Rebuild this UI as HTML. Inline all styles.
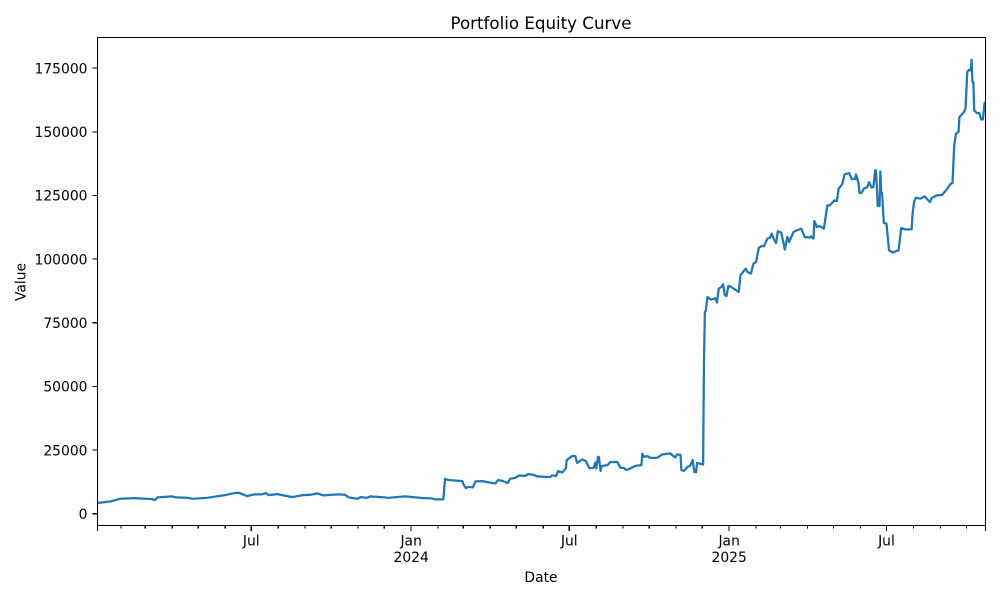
<!DOCTYPE html>
<html>
<head>
<meta charset="utf-8">
<title>Portfolio Equity Curve</title>
<style>
html,body{margin:0;padding:0;background:#fff;width:1000px;height:600px;overflow:hidden}
svg{display:block}
text{font-family:"DejaVu Sans","Liberation Sans",sans-serif;fill:#000}
</style>
</head>
<body>
<svg id="chart" xmlns="http://www.w3.org/2000/svg" width="1000" height="600" viewBox="0 0 1000 600">
  <rect x="0" y="0" width="1000" height="600" fill="#fff"/>
  <defs><clipPath id="plot-clip"><rect x="97.5" y="37.5" width="888" height="488"/></clipPath></defs>
  <g id="series-layer" clip-path="url(#plot-clip)"></g>
  <g id="tick-layer"></g>
  <rect x="97.5" y="37.5" width="888" height="488" fill="none" stroke="#000" stroke-width="1.11" shape-rendering="crispEdges"/>
  <text x="541" y="29" font-size="16.67" text-anchor="middle">Portfolio Equity Curve</text>
  <text x="541" y="582" font-size="13.89" text-anchor="middle">Date</text>
  <text x="0" y="0" font-size="13.89" text-anchor="middle" transform="translate(25.5,282) rotate(-90)">Value</text>
</svg>
<script>
const startDate = '2023-01-05';
const endDate = '2025-10-23';
const dayOffsets = [0,15,26,42,63,66,69,86,90,103,110,126,145,159,163,172,180,188,194,197,207,224,236,245,253,260,277,285,289,299,303,310,314,322,335,354,375,385,389,398,400,403,406,420,421,424,427,432,435,443,450,458,461,466,472,475,481,485,492,496,502,506,521,523,528,530,535,539,540,546,550,552,558,562,566,571,573,574,576,577,579,580,587,590,598,602,606,608,611,619,626,627,629,633,636,644,650,659,665,667,671,672,675,679,682,685,687,689,690,695,697,698,699,700,702,706,711,713,715,718,720,722,724,726,728,738,740,746,748,752,755,758,761,764,767,771,774,776,778,781,783,787,791,794,796,801,805,810,814,820,821,824,825,828,831,836,840,843,848,851,853,857,860,865,868,872,873,876,877,879,882,886,888,891,893,895,896,898,900,901,902,903,905,908,911,915,922,925,930,937,938,940,942,947,952,958,960,966,972,978,982,984,986,988,991,992,997,999,1001,1003,1005,1006,1007,1008,1009,1012,1015,1017,1019,1021,1022];
const portfolioValues = [4200,4830,5850,6120,5730,5340,6400,6790,6400,6240,5850,6240,7180,8200,8200,6910,7570,7570,8090,7300,7690,6520,7300,7420,7970,7180,7570,7420,6400,5850,6520,6240,6790,6630,6240,6790,6120,6000,5610,5610,13700,13300,13190,12800,11620,10050,10560,10320,12680,12800,12290,11890,13190,12910,12010,13700,14090,15030,14880,15540,15270,14640,14370,15030,14880,16720,16210,17780,21040,22610,22610,19980,21310,20650,17900,18020,20140,17780,22330,22330,16840,18680,19080,20250,20370,18020,18020,17230,17390,18800,19080,23510,22330,22610,21940,21940,23270,23670,22100,23270,23120,17110,16840,18410,18800,21040,16330,16330,19980,19470,19350,60000,79240,79640,85130,84110,84620,82940,88430,89060,90120,85800,85520,89450,89330,87090,93650,96280,94950,94320,98240,98870,104370,105160,105040,108020,108450,110020,108060,106330,110920,110410,103740,108680,106720,110650,111310,111980,108680,108450,108960,108060,114960,112610,113000,111980,121130,121130,123090,122810,127680,129370,133300,133800,131460,131460,133300,129640,125950,125950,127680,128300,130260,128050,128300,134860,134860,120850,120850,134470,125710,125950,114170,113950,103470,102560,103470,112220,111610,111730,117610,122810,124130,123740,124640,122410,123980,125050,125170,127680,129640,129880,144540,149270,150040,155800,157750,159080,173440,174380,174100,178300,169530,169530,158410,157350,157350,154840,154840,161400,161400];
const yTickValues = [0,25000,50000,75000,100000,125000,150000,175000];
const xMajorDates = ['2023-07-01','2024-01-01','2024-07-01','2025-01-01','2025-07-01'];
const xMajorLabels = ['Jul','Jan','Jul','Jan','Jul'];
const xMajorYears = ['','2024','','2025',''];

const NS = 'http://www.w3.org/2000/svg';
const plotLeft = 97.5, plotRight = 985.5, plotBottom = 525.5, zeroY = 513.7, pixelsPerValue = 1 / 392.8;

function toDay(s) {
  return (Date.parse(s + 'T00:00:00Z') - Date.parse(startDate + 'T00:00:00Z')) / 86400000;
}
const totalDays = toDay(endDate);
function xScale(day) {
  return plotLeft + day * (plotRight - plotLeft) / totalDays;
}
function yScale(value) {
  return zeroY - value * pixelsPerValue;
}

const ticks = document.getElementById('tick-layer');
const series = document.getElementById('series-layer');

function tickLine(x1, y1, x2, y2) {
  const l = document.createElementNS(NS, 'line');
  l.setAttribute('x1', x1);
  l.setAttribute('y1', y1);
  l.setAttribute('x2', x2);
  l.setAttribute('y2', y2);
  l.setAttribute('stroke', '#000');
  l.setAttribute('stroke-width', '1.11');
  l.setAttribute('shape-rendering', 'crispEdges');
  ticks.appendChild(l);
  return l;
}
function label(str, x, y, anchor) {
  const t = document.createElementNS(NS, 'text');
  t.setAttribute('x', x);
  t.setAttribute('y', y);
  t.setAttribute('font-size', '13.89');
  t.setAttribute('text-anchor', anchor);
  t.textContent = str;
  ticks.appendChild(t);
  return t;
}

// y axis
yTickValues.forEach(function (v) {
  const y = yScale(v);
  const m = tickLine(plotLeft - 4.86, y, plotLeft, y);
  
  
  const t = label(String(v), 87.5, y + 5.2, 'end');
  
  
});

// x axis: monthly minor ticks
const startMs = Date.parse(startDate + 'T00:00:00Z');
const endMs = Date.parse(endDate + 'T00:00:00Z');
for (let yr = 2023; yr <= 2025; yr++) {
  for (let mo = 0; mo < 12; mo++) {
    const ms = Date.UTC(yr, mo, 1);
    if (ms < startMs || ms > endMs || mo === 0 || mo === 6) continue;
    const x = xScale((ms - startMs) / 86400000);
    const m = tickLine(x, plotBottom, x, plotBottom + 3.2);
    
    
  }
}
// x axis: edge ticks
[0, totalDays].forEach(function (d) {
  const x = xScale(d);
  const m = tickLine(x, plotBottom, x, plotBottom + 5.3);
  
  
});
// x axis: labelled ticks
xMajorDates.forEach(function (d, i) {
  const x = xScale(toDay(d));
  const m = tickLine(x, plotBottom, x, plotBottom + 5.3);
  
  
  const t = label(xMajorLabels[i], x, 545.5, 'middle');
  
  
  if (xMajorYears[i]) {
    const yl = label(xMajorYears[i], x, 562, 'middle');
    
    
  }
});

// series
let d = '';
dayOffsets.forEach(function (day, i) {
  d += (i ? 'L' : 'M') + xScale(day).toFixed(2) + ' ' + yScale(portfolioValues[i]).toFixed(2);
});
const path = document.createElementNS(NS, 'path');
path.setAttribute('d', d);
path.setAttribute('fill', 'none');
path.setAttribute('stroke', '#1f77b4');
path.setAttribute('stroke-width', '2.25');
path.setAttribute('stroke-linejoin', 'round');
path.setAttribute('stroke-linecap', 'butt');


series.appendChild(path);
</script>
</body>
</html>
